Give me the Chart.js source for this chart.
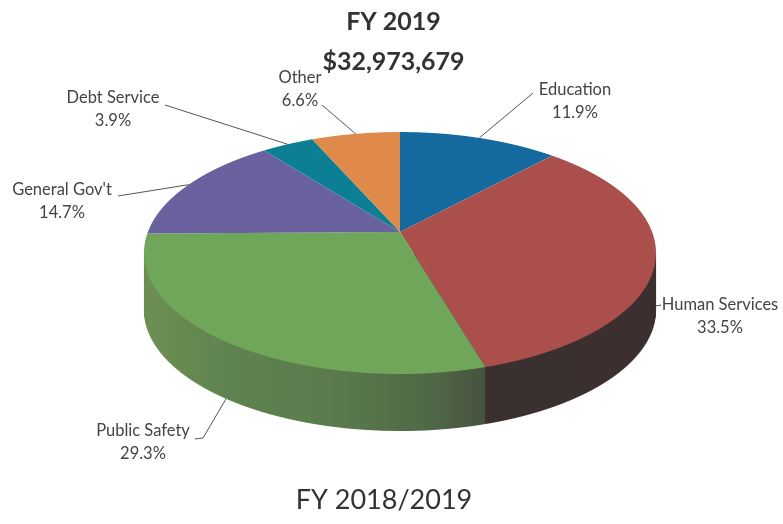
<!DOCTYPE html>
<html>
<head>
<meta charset="utf-8">
<style>
html, body { margin: 0; padding: 0; background: #fff; }
#wrap { width: 783px; height: 524px; }
#pie { filter: blur(0.5px); }
</style>
</head>
<body>
<div id="wrap"><canvas id="pie"></canvas></div>
<script src="https://cdn.jsdelivr.net/npm/chart.js@4"></script>
<script>
const categories = ['Education', 'Human Services', 'Public Safety', "General Gov't", 'Debt Service', 'Other'];
const shares = [11.9, 33.5, 29.3, 14.7, 3.9, 6.6];
const colors = ['#146a9f', '#ab4f4d', '#6fa65a', '#6a619f', '#0d7f95', '#df8a4a'];
const titleLines = ['FY 2019', '$32,973,679'];
const caption = 'FY 2018/2019';

// side wall colours, [x on page, colour]
const wallStops = {
    1: [[483, '#3b3030'], [656, '#3b2f2f']],
    2: [[147, '#6d8f52'], [230, '#5f8350'], [330, '#5b7b4c'], [430, '#4f6947'], [483, '#47533f']]
};

// where the tilted disc sits on the page
const CX = 400, CY = 253, RX = 256, RY = 121, DEPTH = 57;
const TILT = -0.174; // moves the apex above the ellipse centre

// label centre, elbow of the leader line and how far down the wall it lands
const labelSpots = [
    { x: 575, y: 90, elbow: [533, 93], drop: 0 },
    { x: 720, y: 305, elbow: [661, 305], drop: 46 },
    { x: 143, y: 431, elbow: [195, 439], drop: 57, tail: [203, 438] },
    { x: 62, y: 190, elbow: [118, 196], drop: 0 },
    { x: 113, y: 98, elbow: [165, 105], drop: 0 },
    { x: 300, y: 78, elbow: [322, 105], drop: 0 }
];

// maps a point of the flat circle (unit coords) onto the tilted disc
function project(u, v) {
    const t = (v + TILT) / (1 + TILT * v);
    const k = Math.sqrt(1 - t * t) / Math.sqrt(1 - v * v);
    return [CX + RX * u * k, CY + RY * t];
}

function drawRow(ctx, arcs, row, drop, paint) {
    const t = (row + 0.5 - CY) / RY;
    if (Math.abs(t) >= 1) return;
    const v = (t - TILT) / (1 - TILT * t);
    const R = arcs[0].outerRadius, cx = arcs[0].x, cy = arcs[0].y;
    const sx = RX / R * (1 - TILT * t) / Math.sqrt(1 - TILT * TILT);
    const sy = RY / R * (1 - TILT * TILT) / Math.pow(1 + TILT * v, 2);
    ctx.save();
    ctx.beginPath();
    ctx.rect(0, row + drop, 783, 1);
    ctx.clip();
    ctx.translate(CX, row + 0.5 + drop);
    ctx.scale(sx, sy);
    ctx.translate(-cx, -(cy + R * v));
    arcs.forEach((arc, i) => {
        if (paint) {
            const keep = arc.options;
            arc.options = Object.assign({}, keep, { backgroundColor: paint(i, sx, cx) });
            arc.draw(ctx);
            arc.options = keep;
        } else {
            arc.draw(ctx);
        }
    });
    ctx.restore();
}

const tiltedPie = {
    id: 'tiltedPie',
    beforeDatasetsDraw(chart) {
        const ctx = chart.ctx;
        const arcs = chart.getDatasetMeta(0).data;

        // wall first, from the bottom layer up
        const wallArcs = Object.keys(wallStops).map(i => arcs[i]);
        const wallKeys = Object.keys(wallStops);
        const paint = (i, sx, cx) => {
            const stops = wallStops[wallKeys[i]];
            const first = stops[0][0], last = stops[stops.length - 1][0];
            const g = ctx.createLinearGradient(cx + (first - CX) / sx, 0, cx + (last - CX) / sx, 0);
            stops.forEach(s => g.addColorStop((s[0] - first) / (last - first), s[1]));
            return g;
        };
        for (let drop = DEPTH; drop > 0; drop--) {
            for (let row = CY; row <= CY + RY; row++) drawRow(ctx, wallArcs, row, drop, paint);
        }

        for (let row = CY - RY; row <= CY + RY; row++) drawRow(ctx, arcs, row, 0);

        // leader lines and labels
        ctx.save();
        ctx.strokeStyle = '#555';
        ctx.lineWidth = 1;
        arcs.forEach((arc, i) => {
            const spot = labelSpots[i];
            const mid = (arc.startAngle + arc.endAngle) / 2 + Math.PI / 2;
            const p = project(Math.sin(mid), -Math.cos(mid));
            ctx.beginPath();
            ctx.moveTo(spot.elbow[0], spot.elbow[1]);
            if (spot.tail) ctx.lineTo(spot.tail[0], spot.tail[1]);
            ctx.lineTo(p[0], p[1] + spot.drop);
            ctx.stroke();
            ctx.fillStyle = '#444';
            ctx.font = '16.5px Lato';
            ctx.textAlign = 'center';
            ctx.textBaseline = 'middle';
            ctx.fillText(categories[i], spot.x, spot.y);
            ctx.fillText(shares[i].toFixed(1) + '%', spot.x, spot.y + 23);
        });
        ctx.fillStyle = '#333';
        ctx.font = '27px Lato';
        ctx.fillText(caption, 384, 500);
        ctx.restore();
        return false;
    }
};

new Chart(document.getElementById('pie').getContext('2d'), {
    type: 'pie',
    data: {
        labels: categories,
        datasets: [{
            data: shares,
            backgroundColor: colors,
            borderWidth: 0
        }]
    },
    options: {
        responsive: true,
        maintainAspectRatio: false,
        animation: false,
        layout: { padding: { left: 4, top: 2, bottom: 40 } },
        plugins: {
            legend: { display: false },
            tooltip: { enabled: false },
            title: {
                display: true,
                text: titleLines,
                color: '#333',
                font: { family: 'Lato', size: 25, weight: 'bold', lineHeight: 1.6 },
                padding: { top: 0, bottom: 10 }
            }
        }
    },
    plugins: [tiltedPie]
});
</script>
</body>
</html>
